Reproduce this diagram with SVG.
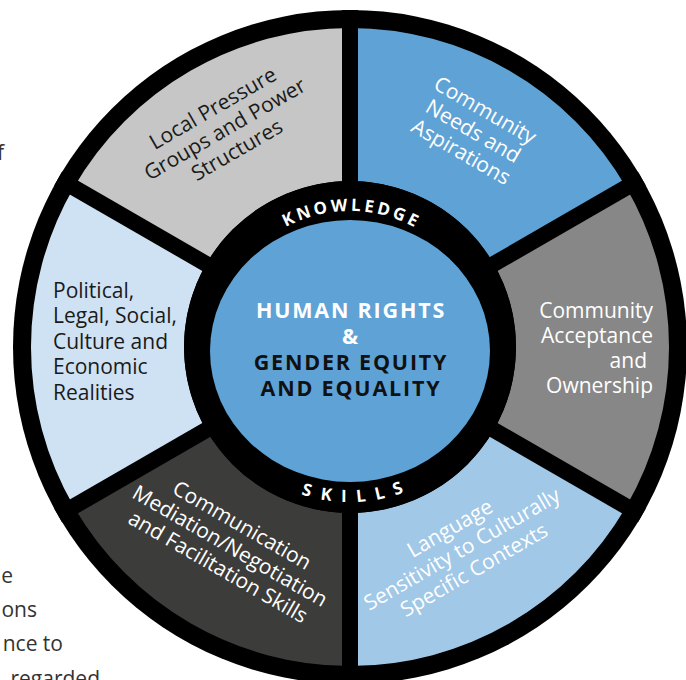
<svg xmlns="http://www.w3.org/2000/svg" width="686" height="680" viewBox="0 0 686 680">
<style>
.lbl{font-family:"Open Sans","Liberation Sans",sans-serif;font-size:21px;}
.dark{fill:#1a1a1a;}
.white{fill:#ffffff;}
.ctr{font-family:"Open Sans","Liberation Sans",sans-serif;font-size:21.5px;font-weight:bold;letter-spacing:1.8px;text-anchor:middle;}
.ring{font-family:"Open Sans","Liberation Sans",sans-serif;font-weight:bold;fill:#ffffff;text-anchor:middle;}
.stray{font-family:"Open Sans","Liberation Sans",sans-serif;font-size:21px;fill:#333333;text-anchor:end;}
.div{stroke:#000000;stroke-width:16;}
</style>
<defs>
<path id="arcTop" d="M 214,347 A 136 136 0 0 1 486,347"/>
<path id="arcBot" d="M 195,347 A 155 155 0 0 0 505,347"/>
</defs>
<rect width="686" height="680" fill="#ffffff"/>
<g id="page-text">
<text class="stray" x="4" y="160">f</text>
<text class="stray" x="13" y="583">e</text>
<text class="stray" x="37" y="617">ons</text>
<text class="stray" x="63" y="651">nce to</text>
<text class="stray" x="100" y="686">regarded</text>
</g>
<circle id="outer-ring" cx="350" cy="347" r="337" fill="#000000"/>
<g id="seg-local-pressure">
<path d="M 350,28 A 319 319 0 0 0 73.73,187.5 L 206.24,264 A 166 166 0 0 1 350,181 Z" fill="#c6c6c6"/>
<g transform="translate(226,131) rotate(-30)">
<text class="lbl dark" text-anchor="middle" x="0" y="-19">Local Pressure</text>
<text class="lbl dark" text-anchor="middle" x="0" y="5">Groups and Power</text>
<text class="lbl dark" text-anchor="middle" x="0" y="29">Structures</text>
</g>
</g>
<g id="seg-community-needs">
<path d="M 350,28 A 319 319 0 0 1 626.27,187.5 L 493.76,264 A 166 166 0 0 0 350,181 Z" fill="#5fa3d6"/>
<g transform="translate(472,133) rotate(30)">
<text class="lbl white" text-anchor="middle" x="0" y="-19">Community</text>
<text class="lbl white" text-anchor="middle" x="0" y="5">Needs and</text>
<text class="lbl white" text-anchor="middle" x="0" y="29">Aspirations</text>
</g>
</g>
<g id="seg-community-acceptance">
<path d="M 626.27,187.5 A 319 319 0 0 1 626.27,506.5 L 493.76,430 A 166 166 0 0 0 493.76,264 Z" fill="#878787"/>
<text class="lbl white" text-anchor="end" x="653" y="318">Community</text>
<text class="lbl white" text-anchor="end" x="653" y="343">Acceptance</text>
<text class="lbl white" text-anchor="end" x="647" y="368">and</text>
<text class="lbl white" text-anchor="end" x="653" y="393">Ownership</text>
</g>
<g id="seg-language">
<path d="M 626.27,506.5 A 319 319 0 0 1 350,666 L 350,513 A 166 166 0 0 0 493.76,430 Z" fill="#a1c8e7"/>
<g transform="translate(463,551) rotate(-30)">
<text class="lbl white" text-anchor="middle" x="0" y="-19">Language</text>
<text class="lbl white" text-anchor="middle" x="0" y="5">Sensitivity to Culturally</text>
<text class="lbl white" text-anchor="middle" x="0" y="29">Specific Contexts</text>
</g>
</g>
<g id="seg-communication">
<path d="M 350,666 A 319 319 0 0 1 73.73,506.5 L 206.24,430 A 166 166 0 0 0 350,513 Z" fill="#3c3c3b"/>
<g transform="translate(229,548) rotate(30)">
<text class="lbl white" text-anchor="middle" x="0" y="-19">Communication</text>
<text class="lbl white" text-anchor="middle" x="0" y="5">Mediation/Negotiation</text>
<text class="lbl white" text-anchor="middle" x="0" y="29">and Facilitation Skills</text>
</g>
</g>
<g id="seg-political">
<path d="M 73.73,506.5 A 319 319 0 0 1 73.73,187.5 L 206.24,264 A 166 166 0 0 0 206.24,430 Z" fill="#cfe2f3"/>
<text class="lbl dark" x="53" y="298">Political,</text>
<text class="lbl dark" x="53" y="323">Legal, Social,</text>
<text class="lbl dark" x="53" y="349">Culture and</text>
<text class="lbl dark" x="53" y="374">Economic</text>
<text class="lbl dark" x="53" y="400">Realities</text>
</g>
<g id="connectors">
<line class="div" x1="350" y1="10" x2="350" y2="684"/>
<line class="div" x1="641.85" y1="178.5" x2="58.15" y2="515.5"/>
<line class="div" x1="641.85" y1="515.5" x2="58.15" y2="178.5"/>
</g>
<g id="center">
<circle cx="350" cy="347" r="166" fill="#000000"/>
<ellipse cx="350" cy="351" rx="140" ry="131" fill="#5fa3d6"/>
<text class="ring" font-size="17" letter-spacing="3.2"><textPath href="#arcTop" startOffset="50.4%">KNOWLEDGE</textPath></text>
<text class="ring" font-size="17" letter-spacing="10"><textPath href="#arcBot" startOffset="51.6%">SKILLS</textPath></text>
<text class="ctr" x="351" y="318" fill="#ffffff">HUMAN RIGHTS</text>
<text class="ctr" x="351" y="344" fill="#ffffff">&amp;</text>
<text class="ctr" x="351" y="370" fill="#111111">GENDER EQUITY</text>
<text class="ctr" x="351" y="396" fill="#111111">AND EQUALITY</text>
</g>
</svg>
